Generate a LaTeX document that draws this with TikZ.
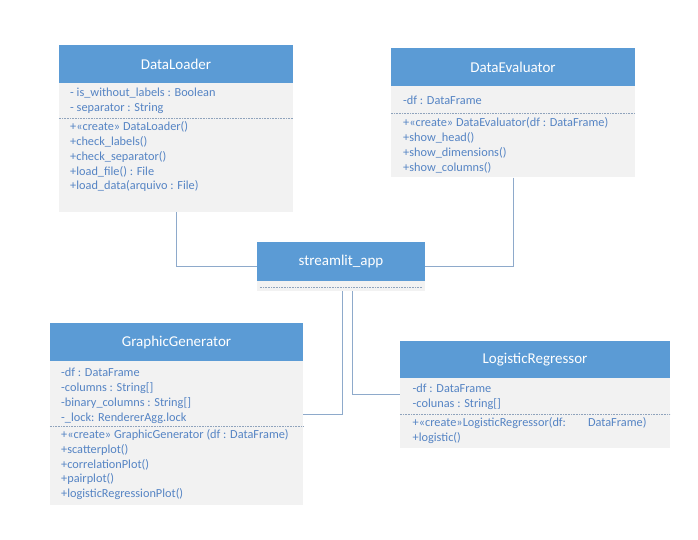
\documentclass[tikz,border=0pt]{standalone}
\usepackage{fontspec}
\setmainfont{Carlito}
\usetikzlibrary{positioning}
\definecolor{headblue}{HTML}{5B9BD5}
\definecolor{bodygray}{HTML}{F2F2F2}
\definecolor{memberblue}{HTML}{5584C4}
\definecolor{sepgray}{HTML}{8FA3BC}
\definecolor{linkblue}{HTML}{8EAACB}

\begin{document}
\begin{tikzpicture}[x=1pt,y=-1pt,
    classbox/.style={fill=bodygray, inner sep=0pt},
    head/.style={fill=headblue, text=white, minimum height=38pt, inner sep=0pt,
      font=\fontsize{15}{17}\selectfont},
    members/.style={text=memberblue, align=left, inner sep=0pt, anchor=base west,
      font=\fontsize{12.3}{14.8}\selectfont},
    sep/.style={draw=sepgray, densely dotted, line width=.6pt},
    link/.style={draw=linkblue, line width=.8pt}]
  \useasboundingbox (0,0) rectangle (698,540);

  % DataLoader (members placed by the baseline of their last line)
  \node[classbox, minimum width=234pt, minimum height=167pt] (loader) at (176,128.5) {};
  \node[head, minimum width=234pt, below=0pt of loader.north] (loaderhead) {DataLoader};
  \node[members] (loaderattr) at (70,111.8) {- is\_without\_labels : Boolean\\- separator : String};
  \draw[sep] (loader.west |- 0,118.3) -- (loader.east |- 0,118.3);
  \node[members] (loaderops) at (70,189.9) {+«create» DataLoader()\\+check\_labels()\\
    +check\_separator()\\+load\_file() : File\\+load\_data(arquivo : File)};

  % DataEvaluator
  \node[classbox, minimum width=244pt, minimum height=129.5pt] (evaluator) at (513,112.75) {};
  \node[head, minimum width=244pt, below=0pt of evaluator.north] (evaluatorhead) {DataEvaluator};
  \node[members] (evaluatorattr) at (403,104.3) {-df : DataFrame};
  \draw[sep] (evaluator.west |- 0,113.3) -- (evaluator.east |- 0,113.3);
  \node[members] (evaluatorops) at (403,171.1) {+«create» DataEvaluator(df : DataFrame)\\
    +show\_head()\\+show\_dimensions()\\+show\_columns()};

  % streamlit_app
  \node[classbox, minimum width=168pt, minimum height=49pt] (app) at (341,266.5) {};
  \node[head, minimum width=168pt, minimum height=39pt, below=0pt of app.north] (apphead) {streamlit\_app};
  \draw[sep] ([xshift=3pt]app.west |- 0,287) -- ([xshift=-3pt]app.east |- 0,287);

  % GraphicGenerator
  \node[classbox, minimum width=253pt, minimum height=182pt] (graphic) at (176.5,414) {};
  \node[head, minimum width=253pt, below=0pt of graphic.north] (graphichead) {GraphicGenerator};
  \node[members] (graphicattr) at (61,421.1) {-df : DataFrame\\-columns : String[]\\
    -binary\_columns : String[]\\-\_lock: RendererAgg.lock};
  \draw[sep] (graphic.west |- 0,426.7) -- (graphic.east |- 0,426.7);
  \node[members] (graphicops) at (61,497.7) {+«create» GraphicGenerator (df : DataFrame)\\
    +scatterplot()\\+correlationPlot()\\+pairplot()\\+logisticRegressionPlot()};

  % LogisticRegressor
  \node[classbox, minimum width=270pt, minimum height=107pt] (logistic) at (535,394.5) {};
  \node[head, minimum width=270pt, minimum height=37pt, below=0pt of logistic.north] (logistichead) {LogisticRegressor};
  \node[members] (logisticattr) at (412.5,407.3) {-df : DataFrame\\-colunas : String[]};
  \draw[sep] (logistic.west |- 0,414) -- (logistic.east |- 0,414);
  \node[members] (logisticops) at (412.5,441.3) {+«create»LogisticRegressor(df:\hspace{22pt}DataFrame)\\
    +logistic()};

  % connectors
  \draw[link] (loader.south) |- (app.west);
  \draw[link] (evaluator.south) |- (app.east);
  \draw[link] ([xshift=1pt]app.south) |- (graphic.east);
  \draw[link] ([xshift=11pt]app.south) |- (logistic.west);
\end{tikzpicture}
\end{document}
